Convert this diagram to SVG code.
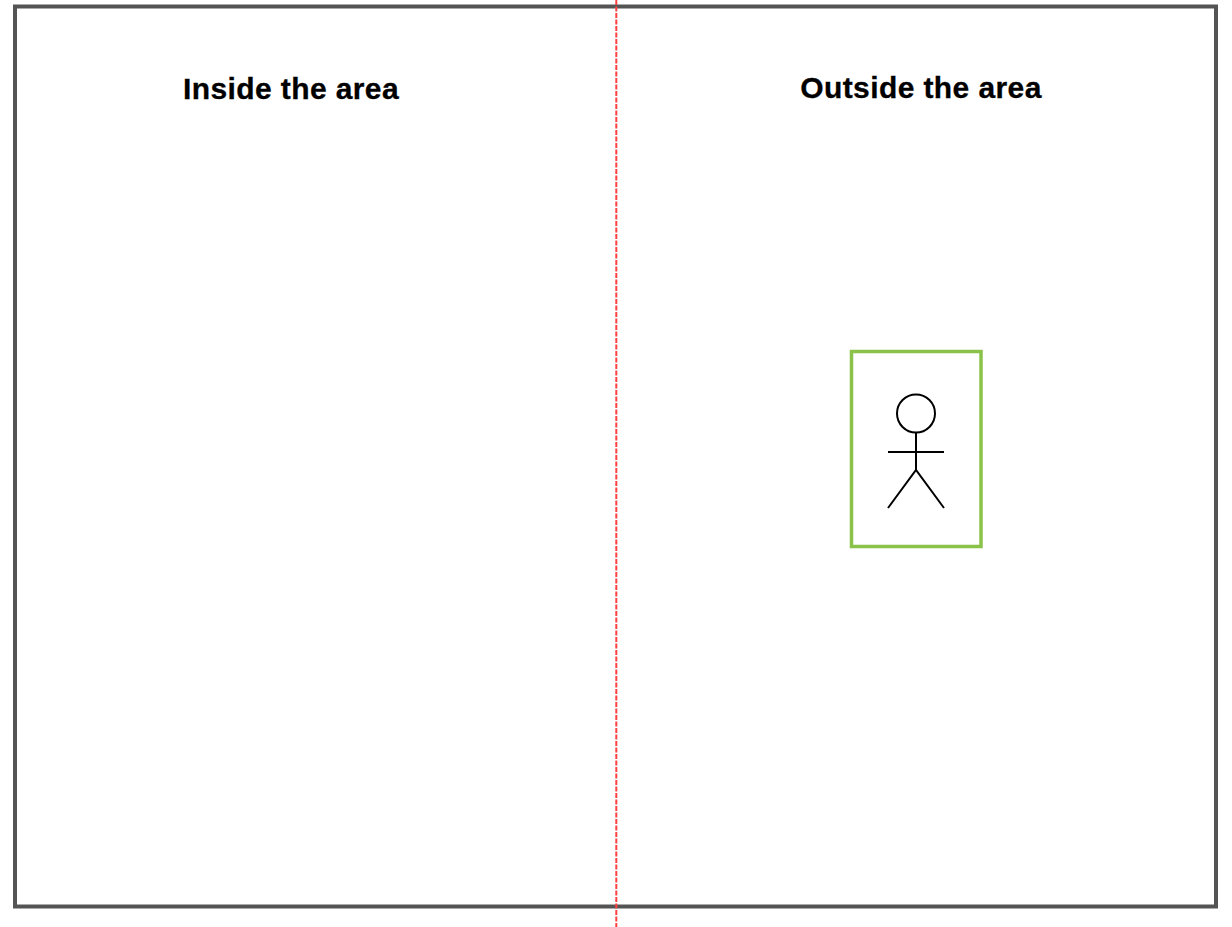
<svg xmlns="http://www.w3.org/2000/svg" width="1232" height="927" viewBox="0 0 1232 927">
<style>
.t{font-family:"Liberation Sans",Arial,sans-serif;font-weight:700;font-size:30px;letter-spacing:.4px;fill:#000;stroke:#000;stroke-width:.3px}
.p{fill:none;stroke:#000;stroke-width:2}
</style>
<rect width="1232" height="927" fill="#fff"/>
<rect id="frame" x="15" y="6.500" width="1201" height="900" fill="none" stroke="#545454" stroke-width="4"/>
<g id="connectors"><line x1="616.300" y1="0" x2="616.300" y2="927" stroke="#ff4040" stroke-width="2" stroke-dasharray="5 1.500"/></g>
<g id="inside-label"><text class="t" x="291" y="99" text-anchor="middle">Inside the area</text></g>
<g id="outside-label"><text class="t" x="921" y="98" text-anchor="middle">Outside the area</text></g>
<g id="person-box"><rect x="851.500" y="351.500" width="129.500" height="195" fill="none" stroke="#8bc34a" stroke-width="3.500"/></g>
<g id="person"><circle class="p" cx="916" cy="413.500" r="19"/><path class="p" d="M916 432.500V470M888 452H944M888 508L916 470L944 508"/></g>
</svg>
